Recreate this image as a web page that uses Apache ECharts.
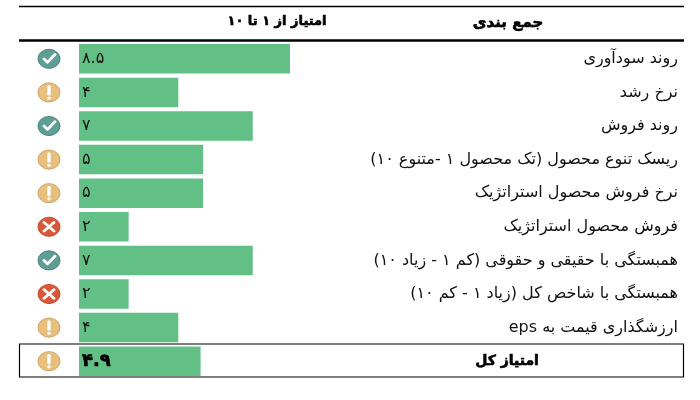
<!DOCTYPE html>
<html lang="fa" dir="rtl">
<head>
<meta charset="utf-8">
<style>html,body{margin:0;padding:0;background:#fff}#c{width:700px;height:400px;position:absolute;left:0;top:0}</style>
<script src="https://cdn.jsdelivr.net/npm/echarts@6/dist/echarts.min.js"></script>
</head>
<body>
<div id="c"></div>
<script>
const categories = [
  'روند سودآوری',
  'نرخ رشد',
  'روند فروش',
  'ریسک تنوع محصول (تک محصول ۱ -متنوع ۱۰)',
  'نرخ فروش محصول استراتژیک',
  'فروش محصول استراتژیک',
  'همبستگی با حقیقی و حقوقی (کم ۱ - زیاد ۱۰)',
  'همبستگی با شاخص کل (زیاد ۱ - کم ۱۰)',
  'ارزشگذاری قیمت به eps',
  'امتیاز کل'
];
const scores = [8.5, 4, 7, 5, 5, 2, 7, 2, 4, 4.9];
const statuses = ['good','warn','good','warn','warn','bad','good','bad','warn','warn'];
const headerScore = 'امتیاز از ۱ تا ۱۰';
const headerGroup = 'جمع بندی';

const FONT = '"DejaVu Sans", sans-serif';
const fa = v => String(v).replace(/\d/g, d => '۰۱۲۳۴۵۶۷۸۹'[d]);
const last = categories.length - 1;
const unit = 24.82, plotL = 19, plotR = 684, zeroX = 79;
const iconValue = (49 - zeroX) / unit;
const totalLabelValue = (507 - zeroX) / unit;
const iconColors = {
  good: ['#5f9e94', '#4a8078'],
  warn: ['#e9bf7e', '#c9a05c'],
  bad:  ['#d9583a', '#c4492d']
};
const heavy = {fill:'#000', stroke:'#000', lineWidth:0.6, align:'center', verticalAlign:'middle'};

function renderIcon(params, api) {
  const i = api.value(1), s = statuses[i], c = api.coord([iconValue, i]);
  const white = {stroke:'#fff', lineWidth:3, lineCap:'round', lineJoin:'round', fill:'none'};
  let marks;
  if (s === 'good') marks = [{type:'polyline', shape:{points:[[-5,0],[-1.5,4],[6,-5]]}, style:white}];
  else if (s === 'bad') marks = [
    {type:'line', shape:{x1:-5,y1:-5,x2:5,y2:5}, style:white},
    {type:'line', shape:{x1:-5,y1:5,x2:5,y2:-5}, style:white}];
  else marks = [
    {type:'line', shape:{x1:0,y1:-6.5,x2:0,y2:2}, style:Object.assign({}, white, {lineWidth:3.4})},
    {type:'circle', shape:{cx:0,cy:6.5,r:1.8}, style:{fill:'#fff'}}];
  return {type:'group', x:c[0], y:c[1], scaleY:0.87, children:[
    {type:'circle', shape:{cx:0,cy:0,r:11}, style:{fill:iconColors[s][0], stroke:iconColors[s][1], lineWidth:1}}
  ].concat(marks)};
}
function renderTotal(params, api) {
  const i = api.value(1), c = api.coord([totalLabelValue, i]);
  return {type:'text', x:c[0], y:c[1], style:Object.assign({}, heavy, {text:categories[i], font:'bold 14px '+FONT})};
}

const chart = echarts.init(document.getElementById('c'), null, {renderer:'canvas'});
chart.setOption({
  animation:false,
  backgroundColor:'#fff',
  grid:{left:plotL, width:plotR-plotL, top:42, height:336},
  xAxis:{type:'value', min:(plotL-zeroX)/unit, max:(plotR-zeroX)/unit, show:false},
  yAxis:{type:'category', data:categories, inverse:true, position:'right',
    axisLine:{show:false}, axisTick:{show:false},
    axisLabel:{align:'right', margin:-6, color:'#111', fontFamily:FONT, fontSize:16,
      formatter:(v,i)=> i===last ? '' : v}},
  series:[
    {type:'bar', barWidth:29.5, encode:{x:0,y:1},
     data:scores.map((v,i)=>({value:[v,i],
       label: i===last ? {fontSize:18, fontWeight:'bold', color:'#000', textBorderColor:'#000', textBorderWidth:0.6} : undefined})),
     itemStyle:{color:'#62c087'},
     label:{show:true, position:'insideLeft', distance:3, fontFamily:FONT, color:'#111', fontSize:16,
       formatter:p => fa(p.value[0])}},
    {type:'custom', renderItem:renderIcon, data:statuses.map((s,i)=>[iconValue,i]), encode:{x:0,y:1}, silent:true, z:5},
    {type:'custom', renderItem:renderTotal, data:[[totalLabelValue,last]], encode:{x:0,y:1}, silent:true, z:5}
  ],
  graphic:[
    {type:'line', silent:true, shape:{x1:plotL,y1:6.5,x2:plotR,y2:6.5}, style:{stroke:'#000',lineWidth:1.3}},
    {type:'line', silent:true, shape:{x1:plotL,y1:40.5,x2:plotR,y2:40.5}, style:{stroke:'#000',lineWidth:2.4}},
    {type:'rect', silent:true, shape:{x:19.5,y:344,width:664,height:33}, style:{fill:'none',stroke:'#000',lineWidth:1.2}, z:10},
    {type:'text', silent:true, x:277, y:22, style:Object.assign({}, heavy, {text:headerScore, font:'bold 13px '+FONT})},
    {type:'text', silent:true, x:508, y:23, style:Object.assign({}, heavy, {text:headerGroup, font:'bold 15px '+FONT})}
  ]
});
</script>
</body>
</html>
